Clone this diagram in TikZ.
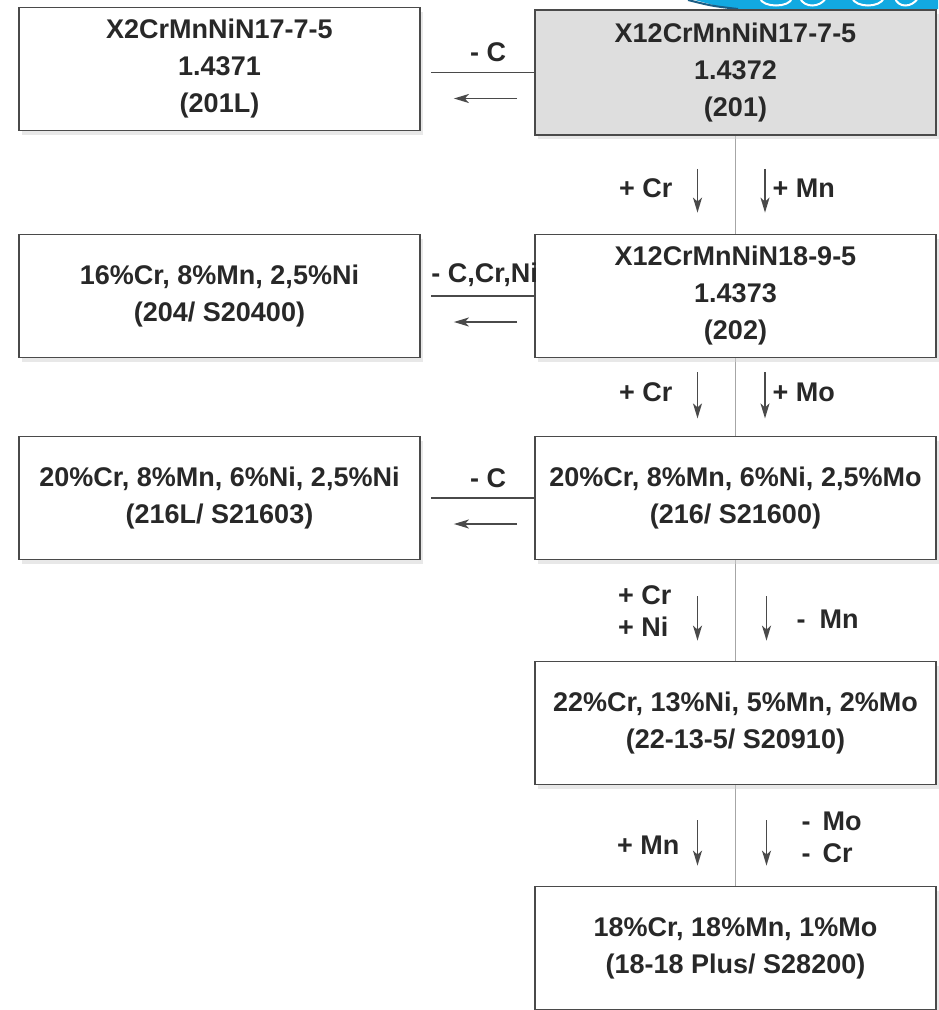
\documentclass[tikz,border=0pt]{standalone}
\usepackage{fontspec}
\setmainfont{Liberation Sans}
\usetikzlibrary{calc,arrows.meta,shadows,backgrounds}
\definecolor{txt}{HTML}{282828}
\definecolor{edge}{HTML}{4A4A4A}
\definecolor{greyfill}{HTML}{DEDEDE}
\definecolor{logoblue}{HTML}{12A9E1}
\definecolor{logodark}{HTML}{1B5E86}
\begin{document}
\begin{tikzpicture}[x=1pt,y=-1pt,
  box/.style={draw=edge, line width=1.8pt, fill=white, minimum width=401pt,
    minimum height=123pt, inner sep=0pt, align=center, text=txt,
    font=\fontsize{27}{37}\selectfont\bfseries,
    drop shadow={shadow xshift=3pt, shadow yshift=-4pt, fill=black!18}},
  lbl/.style={text=txt, font=\fontsize{27}{32}\selectfont\bfseries, inner sep=0pt},
  conn/.style={draw=edge, line width=1.4pt},
  arr/.style={draw=edge, line width=1.6pt, -{Stealth[length=15pt,width=9pt,inset=4pt]}},
  axisline/.style={draw=black!35, line width=1pt},
  logo/.style={fill=logoblue, draw=none}]
\useasboundingbox (0,0) rectangle (938,1010);

% logo fragment at the top edge
\fill[logo] (695,0) -- (938,0) -- (938,9) -- (738,9) .. controls (720,7) .. (695,0) -- cycle;
\draw[logodark, line width=2pt] (688,0) .. controls (712,6) .. (738,9);
\draw[white, line width=2pt] (760,-2) .. controls (762,8) and (790,8) .. (792,-2);
\draw[white, line width=2pt] (800,-2) .. controls (804,8) and (820,8) .. (826,-2);
\draw[white, line width=2pt] (852,-2) .. controls (856,8) and (880,8) .. (884,-2);
\draw[white, line width=2pt] (895,-2) .. controls (898,8) and (912,8) .. (918,-2);

% boxes
\node[box] (A) at (219.5,69) {X2CrMnNiN17-7-5\\1.4371\\(201L)};
\node[box, fill=greyfill, minimum height=125pt] (B) at (735.5,72.5) {X12CrMnNiN17-7-5\\1.4372\\(201)};
\node[box] (C) at (219.5,296) {16\%Cr, 8\%Mn, 2,5\%Ni\\(204/ S20400)};
\node[box] (D) at (735.5,296) {X12CrMnNiN18-9-5\\1.4373\\(202)};
\node[box] (E) at (219.5,498) {20\%Cr, 8\%Mn, 6\%Ni, 2,5\%Ni\\(216L/ S21603)};
\node[box] (F) at (735.5,498) {20\%Cr, 8\%Mn, 6\%Ni, 2,5\%Mo\\(216/ S21600)};
\node[box] (G) at (735.5,723) {22\%Cr, 13\%Ni, 5\%Mn, 2\%Mo\\(22-13-5/ S20910)};
\node[box] (H) at (735.5,948) {18\%Cr, 18\%Mn, 1\%Mo\\(18-18 Plus/ S28200)};

% central axis behind the boxes
\begin{scope}[on background layer]
  \draw[axisline] (B.south) -- (H.north);
\end{scope}

% horizontal transitions
\draw[conn] (B.west) -- ($(B.west -| A.east)+(10,0)$);
\draw[arr] ($(B.west)+(-17,26)$) -- ($(B.west -| A.east)+(33,26)$);
\node[lbl] (l1) at ($(B.west)+(-46,-20)$) {- C};

\draw[conn] (D.west) -- ($(D.west -| C.east)+(10,0)$);
\draw[arr] ($(D.west)+(-17,26)$) -- ($(D.west -| C.east)+(33,26)$);
\node[lbl, anchor=east] (l2) at ($(D.west)+(4,-21)$) {- C,Cr,Ni};

\draw[conn] (F.west) -- ($(F.west -| E.east)+(10,0)$);
\draw[arr] ($(F.west)+(-17,26)$) -- ($(F.west -| E.east)+(33,26)$);
\node[lbl] (l3) at ($(F.west)+(-46,-20)$) {- C};

% vertical transitions B -> D
\draw[arr] ($(B.south)+(-38,33)$) -- ($(D.north)+(-38,-21)$);
\draw[arr] ($(B.south)+(29.5,33)$) -- ($(D.north)+(29.5,-21)$);
\node[lbl, anchor=east] (l4) at ($(B.south)+(-63,52)$) {+ Cr};
\node[lbl, anchor=west] (l5) at ($(B.south)+(37,52)$) {+ Mn};

% D -> F
\draw[arr] ($(D.south)+(-38,14)$) -- ($(D.south)+(-38,60)$);
\draw[arr] ($(D.south)+(29.5,14)$) -- ($(D.south)+(29.5,60)$);
\node[lbl, anchor=east] (l6) at ($(D.south)+(-63,34)$) {+ Cr};
\node[lbl, anchor=west] (l7) at ($(D.south)+(37,34)$) {+ Mo};

% F -> G
\draw[arr] ($(F.south)+(-38,36)$) -- ($(G.north)+(-38,-20)$);
\draw[arr] ($(F.south)+(31,36)$) -- ($(G.north)+(31,-20)$);
\node[lbl, anchor=east, align=left] (l8) at ($(F.south)+(-64,51)$) {+ Cr\\+ Ni};
\node[lbl, anchor=west] (l9) at ($(F.south)+(61,59)$) {-\hspace{14pt}Mn};

% G -> H
\draw[arr] ($(G.south)+(-38,35)$) -- ($(H.north)+(-38,-20)$);
\draw[arr] ($(G.south)+(31,35)$) -- ($(H.north)+(31,-20)$);
\node[lbl, anchor=east] (l10) at ($(G.south)+(-56,60)$) {+ Mn};
\node[lbl, anchor=west, align=left] (l11) at ($(G.south)+(66,52)$) {-\hspace{12pt}Mo\\-\hspace{12pt}Cr};
\end{tikzpicture}
\end{document}
